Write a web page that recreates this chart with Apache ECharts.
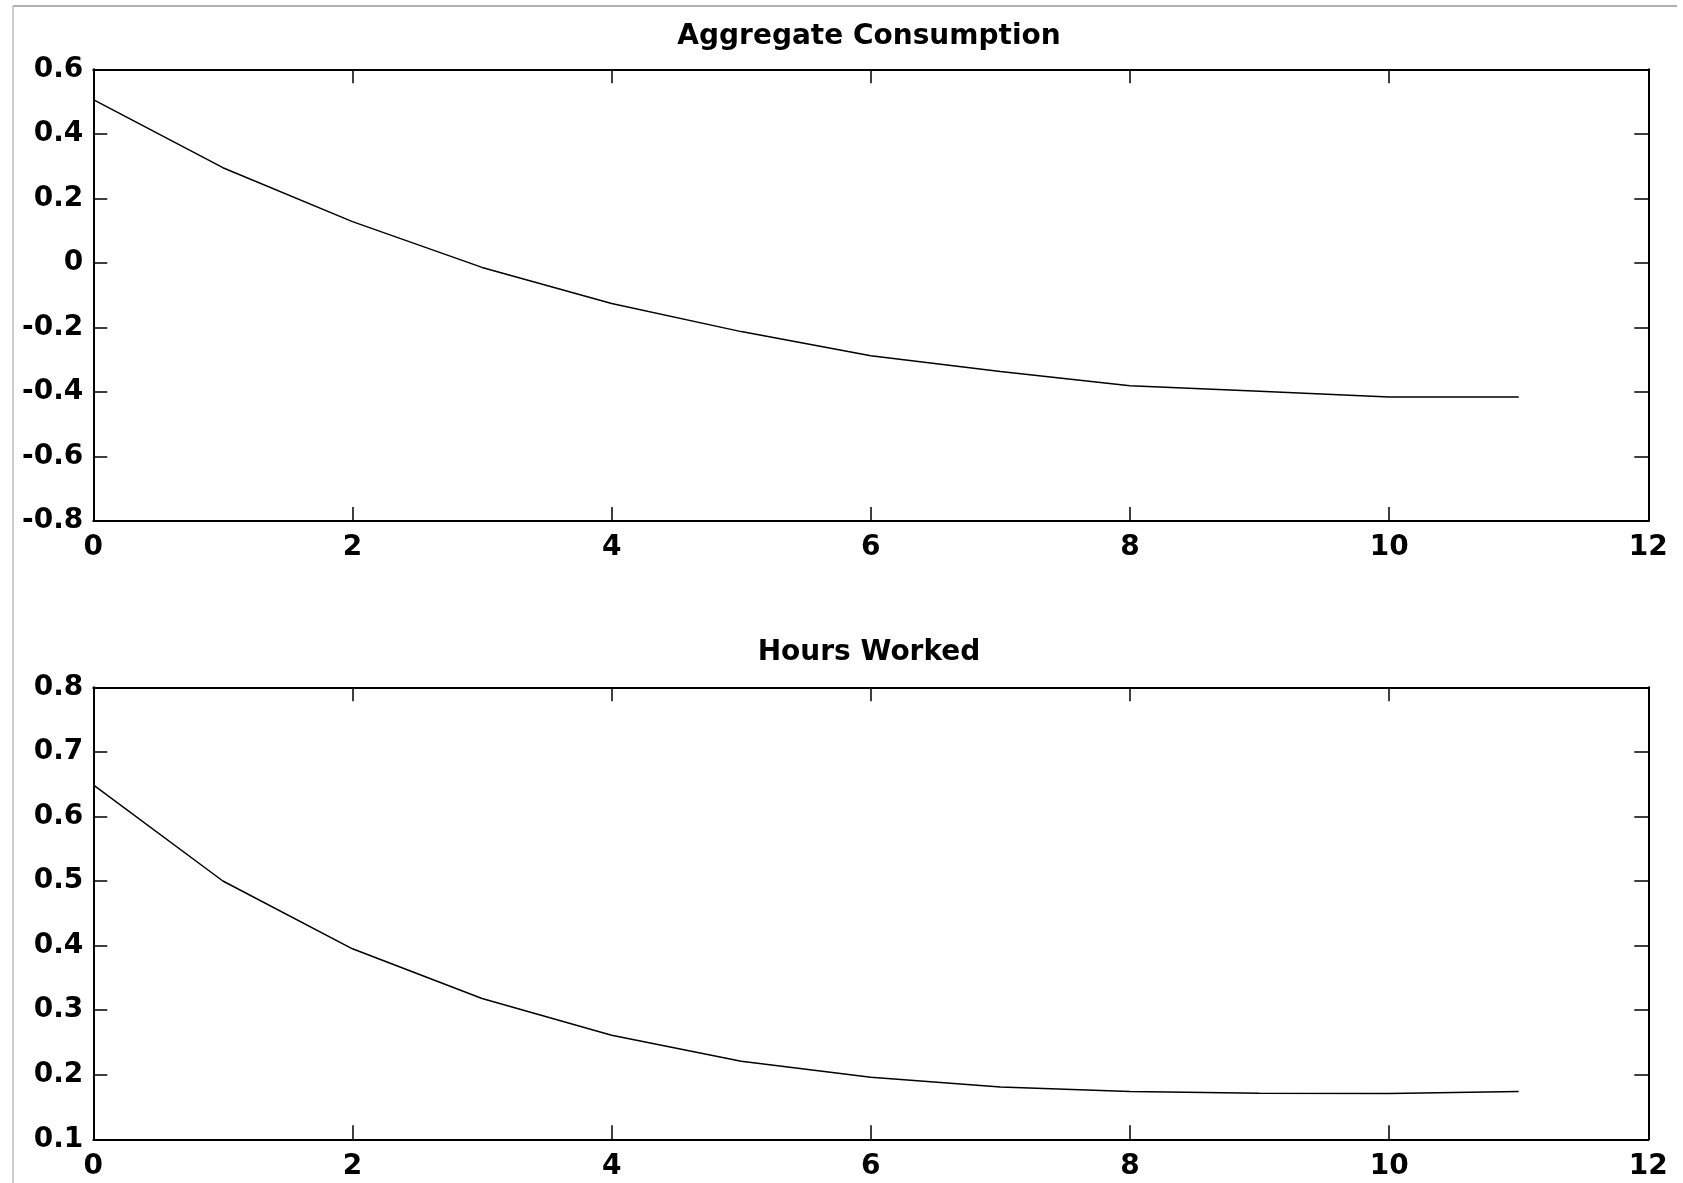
<!DOCTYPE html>
<html>
<head>
<meta charset="utf-8">
<script src="https://cdn.jsdelivr.net/npm/echarts@6/dist/echarts.min.js"></script>
<style>
  html, body { margin: 0; padding: 0; background: #fff; }
  #main { width: 1683px; height: 1183px; }
</style>
</head>
<body>
<div id="main"></div>
<script>
// periods after the shock
var periods = [0, 1, 2, 3, 4, 5, 6, 7, 8, 9, 10, 11];
var consumption = [0.506, 0.295, 0.128, -0.014, -0.126, -0.213, -0.288, -0.337, -0.381, -0.398, -0.416, -0.416];
var hoursWorked = [0.649, 0.500, 0.395, 0.318, 0.261, 0.221, 0.196, 0.181, 0.174, 0.1715, 0.171, 0.174];
var titles = ["Aggregate Consumption", "Hours Worked"];

var FONT = "DejaVu Sans";
var labelStyle = { color: "#000", fontFamily: FONT, fontWeight: "bold", fontSize: 28 };

function pairs(xs, ys) {
  return xs.map(function (x, i) { return [x, ys[i]]; });
}

function xAxes(gridIndex) {
  var base = {
    type: "value", gridIndex: gridIndex, min: 0, max: 12, interval: 2,
    axisLine: { onZero: false, lineStyle: { color: "#000", width: 2 } },
    axisTick: { inside: true, length: 14, lineStyle: { color: "#000", width: 1.5 } },
    splitLine: { show: false }
  };
  return [
    Object.assign({}, base, { position: "bottom", axisLabel: Object.assign({ margin: 13 }, labelStyle) }),
    Object.assign({}, base, { position: "top", axisLabel: { show: false } })
  ];
}

function yAxes(gridIndex, min, max, interval) {
  var base = {
    type: "value", gridIndex: gridIndex, min: min, max: max, interval: interval,
    axisLine: { show: true, onZero: false, lineStyle: { color: "#000", width: 2 } },
    axisTick: { show: true, inside: true, length: 14, lineStyle: { color: "#000", width: 1.5 } },
    splitLine: { show: false }
  };
  return [
    Object.assign({}, base, { position: "left",
      axisLabel: Object.assign({ margin: 10, padding: [6, 0, 0, 0] }, labelStyle) }),
    Object.assign({}, base, { position: "right", axisLabel: { show: false } })
  ];
}

var chart = echarts.init(document.getElementById("main"));

var option = {
  backgroundColor: "#fff",
  animation: false,
  grid: [
    { left: 93.3, right: 34.7, top: 69.3, bottom: 662 },
    { left: 93.3, right: 34.7, top: 687.3, bottom: 43.7 }
  ],
  xAxis: xAxes(0).concat(xAxes(1)),
  yAxis: yAxes(0, -0.8, 0.6, 0.2).concat(yAxes(1, 0.1, 0.8, 0.1)),
  series: [
    {
      type: "line", xAxisIndex: 0, yAxisIndex: 0,
      data: pairs(periods, consumption),
      showSymbol: false, symbol: "none",
      lineStyle: { color: "#000", width: 1.5 }
    },
    {
      type: "line", xAxisIndex: 2, yAxisIndex: 2,
      data: pairs(periods, hoursWorked),
      showSymbol: false, symbol: "none",
      lineStyle: { color: "#000", width: 1.5 }
    }
  ],
  graphic: [
    { type: "line", shape: { x1: 13, y1: 6, x2: 1677, y2: 6 }, style: { stroke: "#999", lineWidth: 1.5 } },
    { type: "line", shape: { x1: 13, y1: 6, x2: 13, y2: 1183 }, style: { stroke: "#bbb", lineWidth: 1.5 } },
    {
      type: "text", x: 869, y: 23,
      style: { text: titles[0], align: "center", verticalAlign: "top", fill: "#000",
               font: "bold 28px " + FONT }
    },
    {
      type: "text", x: 869, y: 639,
      style: { text: titles[1], align: "center", verticalAlign: "top", fill: "#000",
               font: "bold 28px " + FONT }
    }
  ]
};

option && chart.setOption(option);
</script>
</body>
</html>
